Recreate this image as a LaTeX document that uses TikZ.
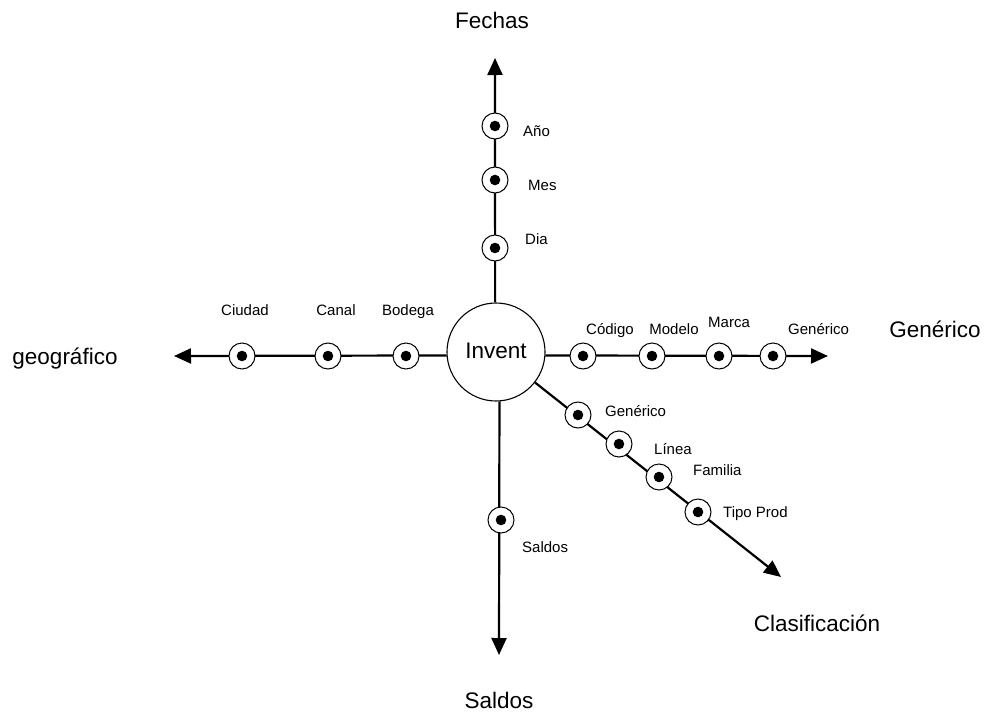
\documentclass[tikz,border=0pt]{standalone}
\usepackage{fontspec}
\setmainfont{Liberation Sans}
\usetikzlibrary{arrows.meta}
\begin{document}
\begin{tikzpicture}[x=1pt,y=-1pt,
  axis/.style={line width=2.2pt,-{Triangle[length=17pt,width=15pt]}},
  hub/.style={circle,draw,line width=1.1pt,fill=white,minimum size=98pt,inner sep=0pt,
    font=\fontsize{22.5}{27}\selectfont},
  level/.style={circle,draw,line width=1pt,fill=white,minimum size=26pt,inner sep=0pt,
    path picture={\fill[black] (path picture bounding box.center) circle (5.3pt);}},
  small/.style={font=\fontsize{15}{18}\selectfont,inner sep=0pt},
  big/.style={font=\fontsize{22.5}{27}\selectfont,inner sep=0pt}]
\useasboundingbox (0,0) rectangle (988,715);

% arrow tips of the five dimensions
\coordinate (tipUp) at (495,58);
\coordinate (tipLeft) at (174,356);
\coordinate (tipRight) at (828,356);
\coordinate (tipDown) at (499,655);
\coordinate (tipDiag) at (781,577);

% central fact
\node[hub] (inv) at (496,352) {};
\node[big,anchor=base] at (496,358) {Invent};

% axes
\draw[axis] (inv.91) -- (tipUp);
\draw[axis] (inv.184.7) -- (tipLeft);
\draw[axis] (inv.-4.7) -- (tipRight);
\draw[axis] (inv.-86.5) -- (tipDown);
\draw[axis] (inv.-38) -- (tipDiag);

% Fechas
\node[level] (anio) at (495,126) {};
\node[level] (mes) at (495,180) {};
\node[level] (dia) at (495,248) {};
\node[small,anchor=base west] at (523,136) {Año};
\node[small,anchor=base west] at (528,190) {Mes};
\node[small,anchor=base west] at (525,244) {Dia};
\node[big,anchor=base] (fechas) at (492,28) {Fechas};

% geográfico
\node[level] (ciudad) at (242,356) {};
\node[level] (canal) at (328,356) {};
\node[level] (bodega) at (406,356) {};
\node[small,anchor=base] at (245,315) {Ciudad};
\node[small,anchor=base] at (336,315) {Canal};
\node[small,anchor=base] at (408,315) {Bodega};
\node[big,anchor=base] (geo) at (65,364) {geográfico};

% Genérico
\node[level] (codigo) at (583,356) {};
\node[level] (modelo) at (652,356) {};
\node[level] (marca) at (719,356) {};
\node[level] (generico) at (773,356) {};
\node[small,anchor=base] at (610,334) {Código};
\node[small,anchor=base] at (674,334) {Modelo};
\node[small,anchor=base] at (729,327) {Marca};
\node[small,anchor=base west] at (788,334) {Genérico};
\node[big,anchor=base] (gen) at (935,337) {Genérico};

% Clasificación
\node[level] (cgen) at (578,415) {};
\node[level] (linea) at (619,444) {};
\node[level] (familia) at (659,477) {};
\node[level] (tipo) at (698,512) {};
\node[small,anchor=base west] at (605,416) {Genérico};
\node[small,anchor=base west] at (654,454) {Línea};
\node[small,anchor=base west] at (693,475) {Familia};
\node[small,anchor=base west] at (723,517) {Tipo Prod};
\node[big,anchor=base] (clas) at (817,631) {Clasificación};

% Saldos
\node[level] (saldo) at (501,520) {};
\node[small,anchor=base west] at (522,552) {Saldos};
\node[big,anchor=base] (saldos) at (499,708) {Saldos};
\end{tikzpicture}
\end{document}
